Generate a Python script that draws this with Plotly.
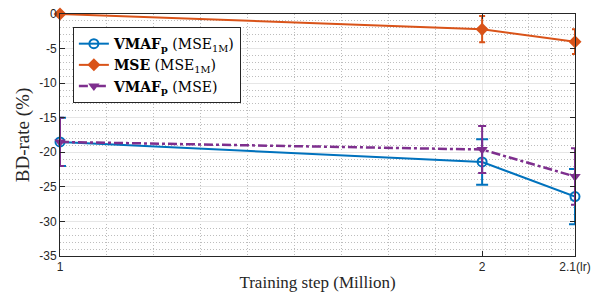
import plotly.graph_objects as go

x_steps = [1, 2, 2.22]
x_ticklabels = ["1", "2", "2.1(lr)"]

vmaf_mse1m = [-18.5, -21.4, -26.4]
vmaf_mse1m_err = [3.5, 3.3, 4.0]
mse_mse1m = [0.0, -2.2, -4.0]
mse_mse1m_err = [0.0, 1.9, 1.8]
vmaf_mse = [-18.5, -19.6, -23.5]
vmaf_mse_err = [3.5, 3.4, 4.1]

y_ticks = [0, -5, -10, -15, -20, -25, -30, -35]
y_ticklabels = ["0", "-5", "-10", "-15", "-20", "-25", "-30", "-35"]
x_minor = [1 + k / 9 for k in range(1, 9)] + [2.055, 2.11, 2.165]
y_minor = [v for v in range(-35, 1) if v % 5 != 0]

blue = "#0072BD"
orange = "#D95319"
purple = "#7E2F8E"

fig = go.Figure()
fig.add_trace(go.Scatter(
    x=x_steps, y=vmaf_mse1m, mode="lines+markers",
    name="<b>VMAF<sub>p</sub></b> (MSE<sub>1M</sub>)",
    line=dict(color=blue, width=2),
    marker=dict(symbol="circle-open", size=9, color=blue, line=dict(width=2)),
    error_y=dict(type="data", array=vmaf_mse1m_err, color=blue, thickness=2, width=6),
    cliponaxis=False,
))
fig.add_trace(go.Scatter(
    x=x_steps, y=mse_mse1m, mode="lines+markers",
    name="<b>MSE</b> (MSE<sub>1M</sub>)",
    line=dict(color=orange, width=2),
    marker=dict(symbol="diamond", size=10, color=orange),
    error_y=dict(type="data", array=mse_mse1m_err, color=orange, thickness=2, width=3),
    cliponaxis=False,
))
fig.add_trace(go.Scatter(
    x=x_steps, y=vmaf_mse, mode="lines+markers",
    name="<b>VMAF<sub>p</sub></b> (MSE)",
    line=dict(color=purple, width=2.5, dash="dashdot"),
    marker=dict(symbol="triangle-down", size=10, color=purple),
    error_y=dict(type="data", array=vmaf_mse_err, color=purple, thickness=2, width=4),
    cliponaxis=False,
))

axis_common = dict(
    showline=True, linecolor="#262626", linewidth=1, mirror="ticks",
    ticks="inside", ticklen=5, tickcolor="#262626",
    showgrid=True, gridcolor="#e6e6e6", gridwidth=1,
    zeroline=False, automargin=False, ticklabeloverflow="allow",
    tickfont=dict(family="Liberation Sans, Arial", size=12, color="#262626"),
)

fig.update_xaxes(
    range=[1, 2.22], tickvals=x_steps, ticktext=x_ticklabels,
    title=dict(text="Training step (Million)", font=dict(family="Liberation Serif, serif", size=17, color="#262626"), standoff=2),
    minor=dict(tickvals=x_minor, showgrid=True, griddash="1px,2px", gridcolor="#bdbdbd", ticks=""),
    **axis_common,
)
fig.update_yaxes(
    range=[-35, 0], tickvals=y_ticks, ticktext=y_ticklabels,
    title=dict(text="BD-rate (%)", font=dict(family="Liberation Serif, serif", size=19, color="#262626"), standoff=4),
    minor=dict(tickvals=y_minor, showgrid=True, griddash="1px,2px", gridcolor="#bdbdbd", ticks=""),
    **axis_common,
)

fig.update_layout(
    width=594, height=295,
    margin=dict(l=60, r=19, t=14, b=39),
    plot_bgcolor="white", paper_bgcolor="white",
    showlegend=True,
    legend=dict(
        x=0.025, y=0.946, xanchor="left", yanchor="top",
        bgcolor="white", bordercolor="#262626", borderwidth=1,
        font=dict(family="DejaVu Serif, serif", size=14, color="#000000"),
        tracegroupgap=0, itemwidth=30,
    ),
)

fig.write_html(
    "out.html",
    config={"displayModeBar": False},
    post_script="document.body.style.margin='0';document.body.style.overflow='hidden';",
)
